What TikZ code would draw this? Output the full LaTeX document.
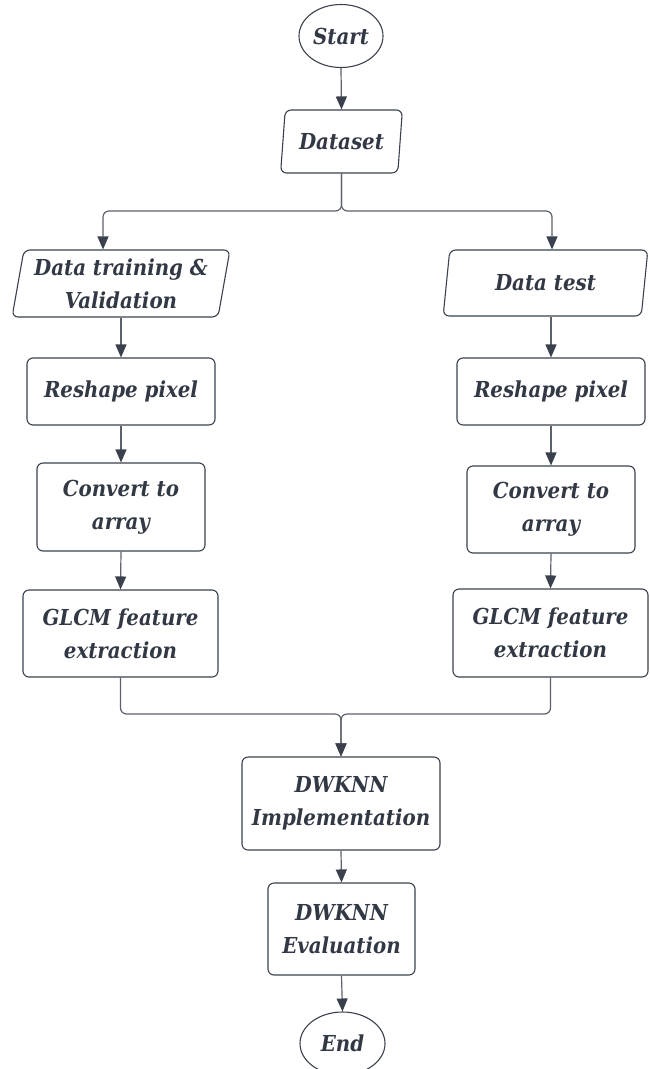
\documentclass[tikz,border=0pt]{standalone}
\usepackage{fontspec}
\setmainfont{DejaVu Serif Condensed}
\definecolor{lineslate}{RGB}{58,64,76}
\definecolor{wiregray}{RGB}{92,97,106}
\definecolor{textslate}{RGB}{50,56,68}
\usetikzlibrary{shapes.geometric,arrows.meta,positioning,calc}

\tikzset{
    flowtext/.style={text=textslate, align=center, inner sep=0pt,
        font=\fontsize{22}{33}\selectfont\bfseries\itshape},
    procbox/.style={flowtext, draw=lineslate, line width=1.1pt, rounded corners=6pt},
    iobox/.style={flowtext, draw=lineslate, line width=1.1pt, rounded corners=6pt,
        trapezium, trapezium left angle=78, trapezium right angle=102,
        trapezium stretches=true},
    termbox/.style={flowtext, draw=lineslate, line width=1.1pt, ellipse},
    flowline/.style={draw=wiregray, line width=1.2pt, rounded corners=6pt,
        -{Triangle[width=11pt,length=13pt,color=lineslate]}},
    plainline/.style={draw=wiregray, line width=1.2pt, rounded corners=6pt}
}

\begin{document}
\begin{tikzpicture}[x=1pt,y=-1pt]
            \clip (0,0) rectangle (649,1069);
            \useasboundingbox (0,0) rectangle (649,1069);

            % top part
            \node[termbox, minimum width=84pt, minimum height=63pt] (start) at (341,36) {Start};
            \node[iobox, minimum width=123pt, minimum height=63pt] (dataset) at (341.5,141.5) {Dataset};
            \coordinate (split) at (341.5,211);

            % left branch
            \node[iobox, minimum width=218pt, minimum height=67pt] (dtrain) at (121,283.5) {Data training \&\\Validation};
            \node[procbox, minimum width=188pt, minimum height=67pt] (reshL) at (121,391.5) {Reshape pixel};
            \node[procbox, minimum width=168pt, minimum height=88pt] (convL) at (121,507) {Convert to\\array};
            \node[procbox, minimum width=195pt, minimum height=87pt] (glcmL) at (120.5,633.5) {GLCM feature\\extraction};

            % right branch
            \node[iobox, minimum width=205pt, minimum height=66pt] (dtest) at (545.5,283) {Data test};
            \node[procbox, minimum width=188pt, minimum height=67pt] (reshR) at (551,391.5) {Reshape pixel};
            \node[procbox, minimum width=168pt, minimum height=87pt] (convR) at (551,509.5) {Convert to\\array};
            \node[procbox, minimum width=195pt, minimum height=88pt] (glcmR) at (550.5,633) {GLCM feature\\extraction};

            % bottom part
            \coordinate (merge) at (341,714);
            \node[procbox, minimum width=198pt, minimum height=93pt] (impl) at (341,803.5) {DWKNN\\Implementation};
            \node[procbox, minimum width=147pt, minimum height=92pt] (eval) at (341.5,929) {DWKNN\\Evaluation};
            \node[termbox, minimum width=85pt, minimum height=63pt] (end) at (342.5,1043.5) {End};

            % connectors
            \draw[flowline] (start.south) -- (dataset.north);
            \draw[flowline] (dataset.south) -- (split) -| ([xshift=-18pt]dtrain.north);
            \draw[flowline] (dataset.south) -- (split) -| ([xshift=6.5pt]dtest.north);
            \draw[flowline] (reshL.north |- dtrain.south) -- (reshL.north);
            \draw[flowline] (reshL.south) -- (convL.north);
            \draw[flowline] (convL.south) -- (glcmL.north);
            \draw[flowline] (reshR.north |- dtest.south) -- (reshR.north);
            \draw[flowline] (reshR.south) -- (convR.north);
            \draw[flowline] (convR.south) -- (glcmR.north);
            \draw[flowline] (glcmL.south) |- (merge) -- (impl.north);
            \draw[flowline] (glcmR.south) |- (merge) -- (impl.north);
            \draw[flowline] (impl.south) -- (eval.north);
            \draw[flowline] (eval.south) -- (end.north);
        \end{tikzpicture}
\end{document}
